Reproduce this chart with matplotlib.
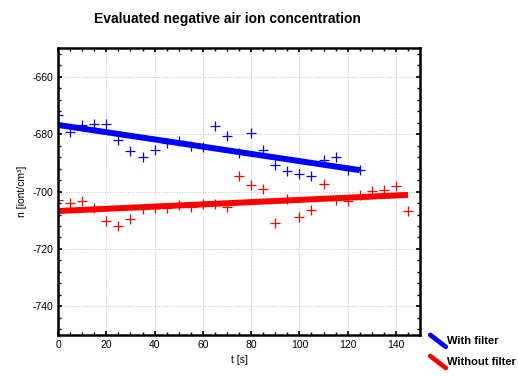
import matplotlib
matplotlib.use("Agg")
import matplotlib.pyplot as plt
import numpy as np
from matplotlib.lines import Line2D
from matplotlib.legend_handler import HandlerBase
from matplotlib.ticker import AutoMinorLocator

plt.rcParams['font.family'] = ['Liberation Sans', 'DejaVu Sans']
plt.rcParams['axes.unicode_minus'] = False

t_with = [0, 5, 10, 15, 20, 25, 30, 35, 40, 45, 50, 55, 60, 65, 70, 75, 80, 85,
          90, 95, 100, 105, 110, 115, 120, 125]
n_with = [-673.4, -679.1, -676.8, -676.6, -676.6, -682.1, -685.7, -687.8, -685.4,
          -682.9, -682.5, -684.0, -684.6, -677.1, -680.8, -686.6, -679.7, -685.5,
          -690.6, -692.9, -693.8, -694.6, -688.9, -688.0, -692.6, -692.4]

t_without = [0, 5, 10, 15, 20, 25, 30, 35, 40, 45, 50, 55, 60, 65, 70, 75, 80, 85,
             90, 95, 100, 105, 110, 115, 120, 125, 130, 135, 140, 145]
n_without = [-703.0, -703.9, -703.2, -705.9, -710.4, -712.0, -709.5, -706.1, -705.6,
             -705.9, -704.7, -705.3, -704.5, -704.5, -705.3, -694.6, -697.7, -699.0,
             -711.0, -702.5, -709.0, -706.4, -697.5, -702.8, -703.2, -701.3, -699.8,
             -699.6, -698.2, -706.7]

x_ticks = [0, 20, 40, 60, 80, 100, 120, 140]
y_ticks = [-740, -720, -700, -680, -660]


class DiagHandler(HandlerBase):
    # legend key drawn as a short diagonal stroke
    def create_artists(self, legend, orig, xd, yd, w, h, fs, trans):
        ln = Line2D([0, w], [h + 1, -2], color=orig.get_color(),
                    lw=3.4, solid_capstyle='round')
        ln.set_transform(trans)
        return [ln]


fig = plt.figure(figsize=(5.18, 3.76), dpi=100)
ax = fig.add_axes([0.112, 0.109, 0.699, 0.763])

ax.plot(t_with, n_with, '+', color='blue', ms=6.5, mew=0.9)
ax.plot(t_without, n_without, '+', color='red', ms=6.5, mew=0.9)

tw = np.array(t_with)
tn = np.array(t_without)
fw = np.polyfit(tw, n_with, 1)
fn = np.polyfit(tn, n_without, 1)
lw_, = ax.plot(tw, np.polyval(fw, tw), color='blue', lw=4.3, solid_capstyle='butt')
ln_, = ax.plot(tn, np.polyval(fn, tn), color='red', lw=4.3, solid_capstyle='butt')

ax.set_xlim(0, 150)
ax.set_ylim(-750, -650)
ax.set_xticks(x_ticks)
ax.set_yticks(y_ticks)
ax.xaxis.set_minor_locator(AutoMinorLocator(4))
ax.yaxis.set_minor_locator(AutoMinorLocator(5))
ax.tick_params(which='both', direction='in', top=True, right=True, labelsize=7.5)
ax.tick_params(which='major', length=3, width=1.2)
ax.tick_params(which='minor', length=2, width=1.0)
ax.grid(True, which='major', ls=':', color='#c0c0c0', lw=0.7)
for s in ax.spines.values():
    s.set_linewidth(1.8)

ax.set_title('Evaluated negative air ion concentration', fontsize=10,
             fontweight='bold', pad=18, x=0.467)
ax.set_xlabel('t [s]', fontsize=7.5, labelpad=4)
ax.set_ylabel('n [iont/cm³]', fontsize=7.5, labelpad=4)

fig.legend([lw_, ln_], ['With filter', 'Without filter'],
           handler_map={lw_: DiagHandler(), ln_: DiagHandler()},
           loc='upper left', bbox_to_anchor=(0.822, 0.118), frameon=False,
           handlelength=1.4, handletextpad=0.1, labelspacing=1.0,
           borderaxespad=0, prop={'weight': 'bold', 'size': 8})

fig.savefig('out.png', dpi=100)
